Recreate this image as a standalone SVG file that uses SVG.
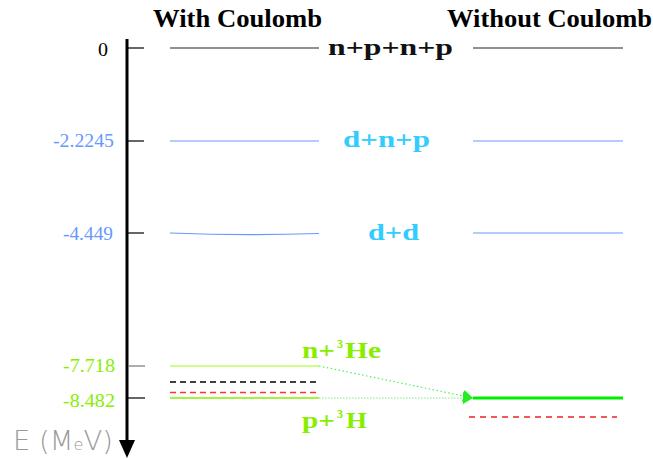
<svg xmlns="http://www.w3.org/2000/svg" width="653" height="459" viewBox="0 0 653 459">
<defs>
<style>
.t{font-family:"Liberation Serif","DejaVu Serif",serif;font-weight:bold;}
.h{font-size:25px;fill:#000;}
.lab{font-size:24px;}
.num{font-family:"Liberation Serif","DejaVu Serif",serif;font-size:19px;}
.tick{stroke:#000;stroke-width:1.2;}
</style>
<marker id="ah" markerWidth="10" markerHeight="12" refX="10" refY="6" orient="auto" markerUnits="userSpaceOnUse">
<path d="M0,0 L10,6 L0,12 Z" fill="#22ee22"/>
</marker>
</defs>
<rect width="653" height="459" fill="#fff"/>
<text class="t h" x="153" y="27" textLength="169" lengthAdjust="spacingAndGlyphs">With Coulomb</text>
<text class="t h" x="447" y="27" textLength="205" lengthAdjust="spacingAndGlyphs">Without Coulomb</text>
<g id="axis">
<line x1="127" y1="39" x2="127" y2="442" stroke="#000" stroke-width="3"/>
<path d="M119,440 L135,440 L127,458 Z" fill="#000"/>
<line class="tick" x1="128" y1="48" x2="144" y2="48"/>
<line class="tick" x1="128" y1="141" x2="144" y2="141"/>
<line class="tick" x1="128" y1="233" x2="144" y2="233" stroke="#555"/>
<line class="tick" x1="128" y1="366" x2="145" y2="366" style="stroke:#777"/>
<line class="tick" x1="128" y1="398" x2="145" y2="398"/>
<text class="num" x="98" y="56" fill="#000" textLength="10" lengthAdjust="spacingAndGlyphs">0</text>
<text class="num" x="53" y="147" fill="#6699ff" textLength="61" lengthAdjust="spacingAndGlyphs">-2.2245</text>
<text class="num" x="63" y="240" fill="#6699ff" textLength="50" lengthAdjust="spacingAndGlyphs">-4.449</text>
<text class="num" x="63" y="372" fill="#88ee00" textLength="52" lengthAdjust="spacingAndGlyphs">-7.718</text>
<text class="num" x="63" y="407" fill="#88ee00" textLength="52" lengthAdjust="spacingAndGlyphs">-8.482</text>
<text x="13" y="450" font-family="'DejaVu Sans',sans-serif" font-weight="200" font-size="27" fill="#999" textLength="100" lengthAdjust="spacingAndGlyphs">E (M<tspan font-size="16">e</tspan>V)</text>
</g>
<g id="level-npnp">
<line x1="170" y1="48" x2="319" y2="48" stroke="#222" stroke-width="1.2"/>
<line x1="473" y1="48" x2="623" y2="48" stroke="#222" stroke-width="1.2"/>
<text class="t lab" x="328" y="55" fill="#111" textLength="125" lengthAdjust="spacingAndGlyphs">n+p+n+p</text>
</g>
<g id="level-dnp">
<line x1="170" y1="141" x2="319" y2="141" stroke="#99bbff" stroke-width="1.5"/>
<line x1="473" y1="141" x2="623" y2="141" stroke="#99bbff" stroke-width="1.5"/>
<text class="t lab" x="343" y="147" fill="#33ccff" textLength="87" lengthAdjust="spacingAndGlyphs">d+n+p</text>
</g>
<g id="level-dd">
<path d="M170,233 Q245,236 319,233.5" fill="none" stroke="#6699ff" stroke-width="1.2"/>
<line x1="473" y1="233" x2="623" y2="233" stroke="#6699ff" stroke-width="1.2"/>
<text class="t lab" x="368" y="240" fill="#33ccff" textLength="51" lengthAdjust="spacingAndGlyphs">d+d</text>
</g>
<g id="level-n3He">
<line x1="170" y1="366" x2="319" y2="366" stroke="#ccff88" stroke-width="2"/>
<text class="t lab" x="302" y="358" fill="#88ee00"><tspan textLength="33" lengthAdjust="spacingAndGlyphs">n+</tspan><tspan x="337" font-size="12" dy="-10">3</tspan><tspan dy="10" x="345" textLength="36" lengthAdjust="spacingAndGlyphs">He</tspan></text>
</g>
<g id="level-dashed">
<line x1="170" y1="382" x2="318" y2="382" stroke="#000" stroke-width="1.5" stroke-dasharray="6,4"/>
<line x1="170" y1="392.5" x2="317" y2="392.5" stroke="#ff3333" stroke-width="1.5" stroke-dasharray="6,4"/>
</g>
<g id="level-p3H">
<line x1="170" y1="398" x2="319" y2="398" stroke="#88ee00" stroke-width="1.5"/>
<text class="t lab" x="302" y="428" fill="#88ee00"><tspan textLength="33" lengthAdjust="spacingAndGlyphs">p+</tspan><tspan x="337" font-size="12" dy="-10">3</tspan><tspan dy="10" x="346" textLength="21" lengthAdjust="spacingAndGlyphs">H</tspan></text>
</g>
<g id="level-right-4N">
<line x1="473" y1="398" x2="623" y2="398" stroke="#00ee00" stroke-width="3"/>
<line x1="469" y1="417" x2="617" y2="417" stroke="#ee2222" stroke-width="1.5" stroke-dasharray="6,5"/>
</g>
<g id="connectors">
<line x1="319" y1="366" x2="473" y2="398" stroke="#55ee55" stroke-width="1.2" stroke-dasharray="1.5,2.5" marker-end="url(#ah)"/>
<line x1="319" y1="398" x2="473" y2="398" stroke="#aaf0aa" stroke-width="1.5" stroke-dasharray="1.5,1.5" marker-end="url(#ah)"/>
</g>
</svg>
